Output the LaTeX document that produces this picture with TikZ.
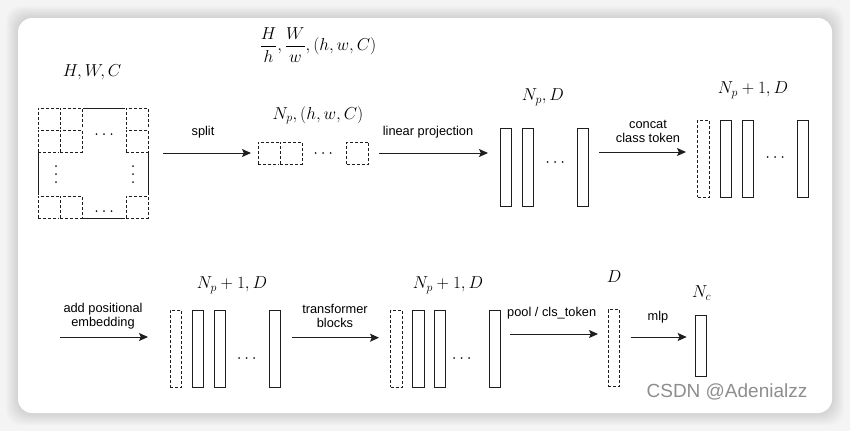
\documentclass[tikz,border=0pt]{standalone}
\usepackage{fontspec}
\setmainfont{Liberation Sans}
\usetikzlibrary{arrows.meta}
\definecolor{bgc}{HTML}{F4F4F4}
\definecolor{wmc}{HTML}{8E8E8E}
\definecolor{ln}{HTML}{1E1E1E}
\newcommand\mydotsh[2]{\fill[ln] (#1-7.5,#2) circle (1pt) (#1,#2) circle (1pt) (#1+7.5,#2) circle (1pt);}
\newcommand\mydotsv[2]{\fill[ln] (#1,#2-8) circle (1pt) (#1,#2) circle (1pt) (#1,#2+8) circle (1pt);}
\tikzset{
 lw/.style={line width=1pt},
 cell/.style={draw=ln, lw, dash pattern=on 3pt off 2pt, fill=white,
   preaction={draw=white, line width=1.9pt, solid},
   minimum width=22pt, minimum height=22pt, inner sep=0pt, outer sep=0pt},
 bar/.style={draw=ln, lw, fill=white, minimum width=11.5pt, inner sep=0pt, outer sep=0pt},
 dbar/.style={bar, dash pattern=on 3pt off 2pt},
 lab/.style={font=\fontsize{12.8}{14}\selectfont, align=center, inner sep=0pt},
 mlab/.style={font=\fontsize{16.5}{18}\selectfont, inner sep=0pt},
 wm/.style={font=\fontsize{19}{21}\selectfont, text=wmc, inner sep=0pt},
 arr/.style={draw=ln, lw, -{Stealth[length=9pt,width=8pt,inset=1.8pt]}},
}
\begin{document}
\begin{tikzpicture}[x=1pt,y=-1pt]
\useasboundingbox (0,0) rectangle (850,431);
% background and card
\fill[bgc] (0,0) rectangle (850,431);
\foreach \i in {1,...,8}
  \fill[black, opacity=0.014, rounded corners=16pt] (18-1.5*\i,18-1.5*\i) rectangle (832+1.5*\i,413+1.5*\i);
\fill[white, rounded corners=14pt] (18,18) rectangle (832,413);

% ---------- top row ----------
\node[mlab] (lhwc) at (92,72) {$H,W,C$};
\node[mlab] (lfrac) at (318,45) {$\displaystyle\frac{H}{h},\frac{W}{w},(h,w,C)$};

\node[draw=ln, lw, minimum width=110pt, minimum height=110pt, inner sep=0pt] (img) at (93,163) {};
\node[cell] (c11) at (49,119) {};
\node[cell] (c12) at (71,119) {};
\node[cell] (c21) at (49,141) {};
\node[cell] (c22) at (71,141) {};
\node[cell] (c1r) at (137,119) {};
\node[cell] (c2r) at (137,141) {};
\node[cell] (cb1) at (49,207) {};
\node[cell] (cb2) at (71,207) {};
\node[cell] (cbr) at (137,207) {};
\mydotsh{104}{134}
\mydotsh{104}{211}
\mydotsv{56}{174}
\mydotsv{133}{174}

\coordinate (a1s) at (163,153);
\coordinate (a1e) at (251,153);
\draw[arr] (a1s) -- (a1e);
\node[lab] (lsplit) at (203,132) {split};

\node[mlab] (lpatch) at (318,115) {$N_p,(h,w,C)$};
\node[cell] (p1) at (269,153) {};
\node[cell] (p2) at (291,153) {};
\node[cell] (p3) at (357.5,153) {};
\mydotsh{323}{153}

\coordinate (a2s) at (379,153);
\coordinate (a2e) at (488,153);
\draw[arr] (a2s) -- (a2e);
\node[lab] (llin) at (428,132) {linear projection};

\node[mlab] (lnpd) at (543,97) {$N_p,D$};
\node[bar, minimum height=78pt] (e1) at (505.8,167) {};
\node[bar, minimum height=78pt] (e2) at (527.8,167) {};
\node[bar, minimum height=78pt] (e3) at (583,167) {};
\mydotsh{555}{162}

\coordinate (a3s) at (599,152);
\coordinate (a3e) at (686,152);
\draw[arr] (a3s) -- (a3e);
\node[lab] (lcat) at (648,131) {concat\\class token};

\node[mlab] (lnp1a) at (753,90) {$N_p+1,D$};
\node[dbar, minimum height=77pt] (t0) at (703.7,158.5) {};
\node[bar, minimum height=77pt] (t1) at (725.8,158.5) {};
\node[bar, minimum height=77pt] (t2) at (748,158.5) {};
\node[bar, minimum height=77pt] (t3) at (803,158.5) {};
\mydotsh{775}{157}

% ---------- bottom row ----------
\coordinate (a4s) at (60,337);
\coordinate (a4e) at (148,337);
\draw[arr] (a4s) -- (a4e);
\node[lab] (lpos) at (103,316.5) {add positional\\embedding};

\node[mlab] (lnp1b) at (232,285) {$N_p+1,D$};
\node[dbar, minimum height=77pt] (q0) at (176.2,348.5) {};
\node[bar, minimum height=77pt] (q1) at (198,348.5) {};
\node[bar, minimum height=77pt] (q2) at (219.8,348.5) {};
\node[bar, minimum height=77pt] (q3) at (275,348.5) {};
\mydotsh{246.7}{358}

\coordinate (a5s) at (291.7,337.7);
\coordinate (a5e) at (379,337.7);
\draw[arr] (a5s) -- (a5e);
\node[lab] (ltr) at (335,316) {transformer\\blocks};

\node[mlab] (lnp1c) at (448,285) {$N_p+1,D$};
\node[dbar, minimum height=77pt] (r0) at (396.3,348.5) {};
\node[bar, minimum height=77pt] (r1) at (418.3,348.5) {};
\node[bar, minimum height=77pt] (r2) at (440,348.5) {};
\node[bar, minimum height=77pt] (r3) at (495,348.5) {};
\mydotsh{461.7}{358}

\coordinate (a6s) at (510,334);
\coordinate (a6e) at (598,334);
\draw[arr] (a6s) -- (a6e);
\node[lab] (lpool) at (551.7,313) {pool / cls\_token};

\node[mlab] (ld) at (614,277) {$D$};
\node[dbar, minimum height=77pt] (cls) at (614,348) {};

\coordinate (a7s) at (630.7,337);
\coordinate (a7e) at (686.7,337);
\draw[arr] (a7s) -- (a7e);
\node[lab] (lmlp) at (658,316.7) {mlp};

\node[mlab] (lnc) at (701.7,293) {$N_c$};
\node[bar, minimum height=61pt] (out) at (700.8,345.5) {};

\node[wm] (wmk) at (727,392) {CSDN @Adenialzz};
\end{tikzpicture}
\end{document}
